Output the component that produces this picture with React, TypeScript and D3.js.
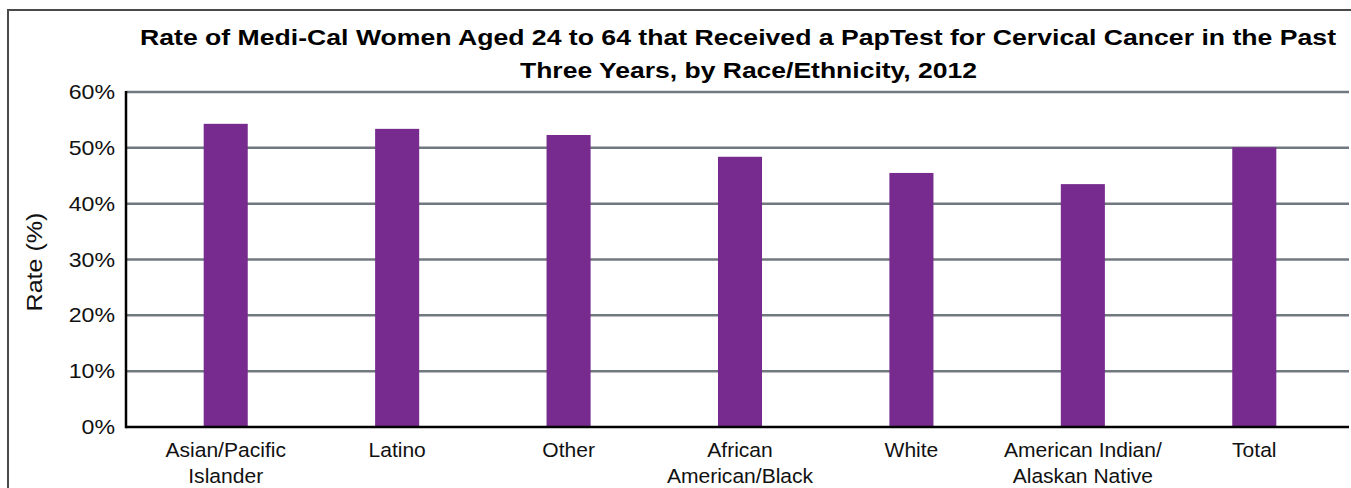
import React from "react";
import * as d3 from "d3";

const categories: string[][] = [
  ["Asian/Pacific", "Islander"],
  ["Latino"],
  ["Other"],
  ["African", "American/Black"],
  ["White"],
  ["American Indian/", "Alaskan Native"],
  ["Total"],
];
const rates: number[] = [54.3, 53.4, 52.3, 48.4, 45.5, 43.5, 50.1];
const yTicks: number[] = [0, 10, 20, 30, 40, 50, 60];
const titleLines: string[] = [
  "Rate of Medi-Cal Women Aged 24 to 64 that Received a PapTest for Cervical Cancer in the Past",
  "Three Years, by Race/Ethnicity, 2012",
];
const yLabel = "Rate (%)";

const W = 1351;
const H = 488;
const FONT = "'Liberation Sans', Arial, Helvetica, sans-serif";

export default function App() {
  const keys = categories.map((c) => c.join(" "));
  const x = d3.scaleBand<string>().domain(keys).range([140, 1340]).padding(0);
  const y = d3.scaleLinear().domain([0, 60]).range([427, 92]);
  const barW = x.bandwidth() * 0.257;
  const axisX = 126;
  const rightX = 1349;

  return (
    <svg
      width={W}
      height={H}
      style={{ position: "absolute", left: 0, top: 0, background: "#fff" }}
    >
      <rect x={0} y={0} width={W} height={H} fill="#fff" />
      {/* frame */}
      <rect x={8} y={10} width={1500} height={700} fill="none" stroke="#4a4a4a" strokeWidth={2} />
      {/* title */}
      <text
        x={738}
        y={44.5}
        textAnchor="middle"
        fontFamily={FONT}
        fontWeight="bold"
        fontSize={22.5}
        textLength={1196}
        lengthAdjust="spacingAndGlyphs"
        fill="#000"
      >
        {titleLines[0]}
      </text>
      <text
        x={748.5}
        y={78}
        textAnchor="middle"
        fontFamily={FONT}
        fontWeight="bold"
        fontSize={22.5}
        textLength={457}
        lengthAdjust="spacingAndGlyphs"
        fill="#000"
      >
        {titleLines[1]}
      </text>
      {/* gridlines */}
      {yTicks.filter((t) => t > 0).map((t) => (
        <line
          key={"g" + t}
          x1={axisX}
          x2={rightX}
          y1={y(t)}
          y2={y(t)}
          stroke="#707880"
          strokeWidth={2.5}
        />
      ))}
      {/* tick labels */}
      {yTicks.map((t) => (
        <text
          key={"t" + t}
          transform={`translate(115,${y(t) + 7}) scale(1.17,1)`}
          textAnchor="end"
          fontFamily={FONT}
          fontSize={19.8}
          fill="#111"
        >
          {t + "%"}
        </text>
      ))}
      {/* y label */}
      <text
        transform={`translate(42,262) rotate(-90) scale(1.14,1)`}
        textAnchor="middle"
        fontFamily={FONT}
        fontSize={22}
        fill="#111"
      >
        {yLabel}
      </text>
      {/* bars */}
      {keys.map((k, i) => (
        <rect
          key={"b" + k}
          x={(x(k) as number) + (x.bandwidth() - barW) / 2}
          y={y(rates[i])}
          width={barW}
          height={y(0) - y(rates[i])}
          fill="#772b8e"
        />
      ))}
      {/* axes */}
      <line x1={axisX} x2={axisX} y1={y(60) - 1} y2={y(0) + 1.25} stroke="#000" strokeWidth={2.5} />
      <line x1={axisX} x2={rightX} y1={y(0)} y2={y(0)} stroke="#000" strokeWidth={2.5} />
      {/* category labels */}
      {categories.map((lines, i) => {
        const cx = (x(keys[i]) as number) + x.bandwidth() / 2;
        return lines.map((ln, j) => (
          <text
            key={"c" + i + "-" + j}
            transform={`translate(${cx},${457 + j * 26}) scale(1.08,1)`}
            textAnchor="middle"
            fontFamily={FONT}
            fontSize={19.5}
            fill="#111"
          >
            {ln}
          </text>
        ));
      })}
    </svg>
  );
}
